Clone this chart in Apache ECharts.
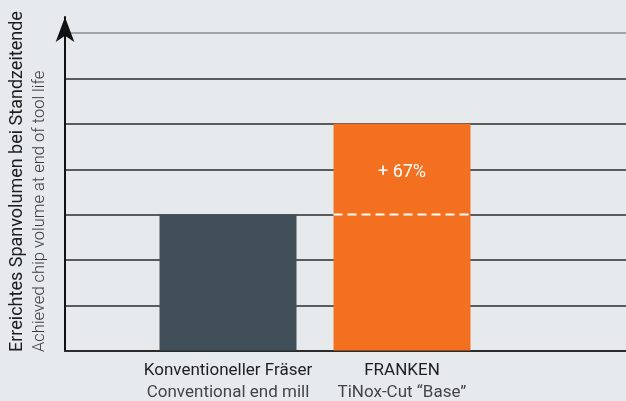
<!DOCTYPE html>
<html>
<head>
<meta charset="utf-8">
<script src="https://cdn.jsdelivr.net/npm/echarts@6/dist/echarts.min.js"></script>
<style>
html, body { margin: 0; padding: 0; background: #e6eaed; }
#chart { width: 626px; height: 401px; }
</style>
</head>
<body>
<div id="chart"></div>
<script>
// data
const categoriesDe = ['Konventioneller Fräser', 'FRANKEN'];
const categoriesEn = ['Conventional end mill', 'TiNox-Cut “Base”'];
const chipVolume = [3, 5];
const barColors = ['#414f58', '#f47021'];
const yMax = 7;
const yTitleDe = 'Erreichtes Spanvolumen bei Standzeitende';
const yTitleEn = 'Achieved chip volume at end of tool life';

const FONT = 'Roboto, sans-serif';
const barWidth = 137;
// gain of the second bar over the first one
const gain = Math.round((chipVolume[1] - chipVolume[0]) / chipVolume[0] * 100);

const chart = echarts.init(document.getElementById('chart'));

// split line colours: dark lines, last (top) one grey
const splitColors = [];
for (let i = 0; i <= yMax; i++) splitColors.push(i === yMax ? '#8a8d90' : '#2b2b2b');

const option = {
  backgroundColor: '#e6eaed',
  animation: false,
  grid: [
    { left: 65, right: 0, top: 17, bottom: 50 },   // arrow axis
    { left: 65, right: 0, top: 33, bottom: 50 },   // grid lines
    { left: 141, right: 137, top: 33, bottom: 50 } // bars
  ],
  xAxis: [
    { gridIndex: 0, type: 'value', show: false },
    {
      gridIndex: 1, type: 'value', min: 0, max: 1,
      axisLine: { show: true, lineStyle: { color: '#2b2b2b', width: 2 } },
      axisTick: { show: false }, axisLabel: { show: false }, splitLine: { show: false }
    },
    {
      gridIndex: 2, type: 'category', data: categoriesDe,
      axisLine: { show: false }, axisTick: { show: false },
      axisLabel: {
        margin: 9,
        interval: 0,
        formatter: (v, i) => '{de|' + v + '}\n{en|' + categoriesEn[i] + '}',
        rich: {
          de: { fontFamily: FONT, fontSize: 17, color: '#1e1e1e', lineHeight: 22, align: 'center' },
          en: { fontFamily: FONT, fontSize: 17, color: '#444444', lineHeight: 22, align: 'center' }
        }
      }
    }
  ],
  yAxis: [
    {
      gridIndex: 0, type: 'value', min: 0, max: 1,
      axisLine: { show: true, symbol: ['none', 'arrow'], symbolSize: [14, 25], lineStyle: { color: '#111', width: 2 } },
      axisTick: { show: false }, axisLabel: { show: false }, splitLine: { show: false }
    },
    {
      gridIndex: 1, type: 'value', min: 0, max: yMax, interval: 1,
      axisLine: { show: false }, axisTick: { show: false }, axisLabel: { show: false },
      splitLine: { show: true, lineStyle: { color: splitColors, width: 1.5 } }
    },
    {
      gridIndex: 2, type: 'value', min: 0, max: yMax, interval: 1, show: false
    }
  ],
  graphic: [
    {
      type: 'text', x: 17, y: 352, rotation: Math.PI / 2,
      style: { text: yTitleDe, font: '18px ' + FONT, fill: '#1e1e1e', align: 'left', verticalAlign: 'middle' }
    },
    {
      type: 'text', x: 40, y: 352, rotation: Math.PI / 2,
      style: { text: yTitleEn, font: '300 16.5px ' + FONT, fill: '#3a3a3a', align: 'left', verticalAlign: 'middle' }
    }
  ],
  series: [
    {
      type: 'bar', xAxisIndex: 2, yAxisIndex: 2,
      barWidth: barWidth,
      data: chipVolume.map((v, i) => ({ value: v, itemStyle: { color: barColors[i] } }))
    },
    {
      // dashed mark of the old level inside the second bar, plus the gain label
      type: 'custom', xAxisIndex: 2, yAxisIndex: 2, z: 10,
      encode: { x: 0, y: [1, 2] },
      data: [[1, chipVolume[0], chipVolume[1]]],
      renderItem: (params, api) => {
        const base = api.coord([api.value(0), api.value(1)]);
        const top = api.coord([api.value(0), api.value(2)]);
        const half = barWidth / 2;
        return {
          type: 'group',
          children: [
            {
              type: 'line',
              shape: { x1: base[0] - half, y1: base[1], x2: base[0] + half, y2: base[1] },
              style: { stroke: '#ffffff', lineWidth: 2, lineDash: [9, 5] }
            },
            {
              type: 'text', x: base[0], y: (base[1] + top[1]) / 2 + 3,
              style: { text: '+ ' + gain + '%', font: '18px ' + FONT, fill: '#ffffff', align: 'center', verticalAlign: 'middle' }
            }
          ]
        };
      }
    }
  ]
};

chart.setOption(option);
</script>
</body>
</html>
